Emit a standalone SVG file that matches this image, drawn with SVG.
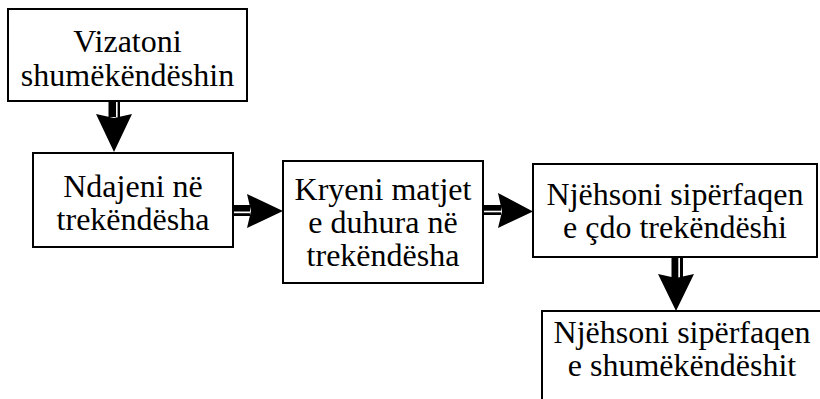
<svg xmlns="http://www.w3.org/2000/svg" width="820" height="399" viewBox="0 0 820 399">
<style>
text{font-family:Liberation Serif, Tinos, Times, DejaVu Serif, serif;font-size:32px;fill:#000;text-anchor:middle}
.box{fill:#fff;stroke:#000;stroke-width:2}
.blk{fill:#000}
.wht{fill:#fff}
</style>
<rect width="820" height="399" fill="#fff"/>
<g id="connectors">
  <g id="a1">
    <rect class="blk" x="108.5" y="101" width="11.5" height="16"/>
    <rect class="wht" x="116" y="101" width="1.6" height="16"/>
    <polygon class="blk" points="96,114 114,118 132,114 114,152"/>
  </g>
  <g id="a2">
    <rect class="blk" x="233" y="205" width="17" height="11"/>
    <rect class="wht" x="233" y="211.5" width="17" height="1.7"/>
    <polygon class="blk" points="247,194 251,211 247,228 283,211"/>
  </g>
  <g id="a3">
    <rect class="blk" x="483" y="205" width="18" height="10"/>
    <rect class="wht" x="483" y="210.7" width="18" height="1.6"/>
    <polygon class="blk" points="498,193 502,211.5 498,228 533,211.5"/>
  </g>
  <g id="a4">
    <rect class="blk" x="671.5" y="257" width="11.5" height="21"/>
    <rect class="wht" x="678.3" y="257" width="1.7" height="21"/>
    <polygon class="blk" points="658,274 676,278 694,274 676,311"/>
  </g>
</g>
<g id="n1">
  <rect class="box" x="8" y="9" width="239" height="92"/>
  <text x="127.5" y="52">Vizatoni</text>
  <text x="127.5" y="86">shumëkëndëshin</text>
</g>
<g id="n2">
  <rect class="box" x="33" y="153" width="200" height="94"/>
  <text x="133" y="197">Ndajeni në</text>
  <text x="133" y="230">trekëndësha</text>
</g>
<g id="n3">
  <rect class="box" x="283" y="161" width="200" height="122"/>
  <text x="383" y="200">Kryeni matjet</text>
  <text x="383" y="233">e duhura në</text>
  <text x="383" y="266">trekëndësha</text>
</g>
<g id="n4">
  <rect class="box" x="533" y="164" width="284" height="93"/>
  <text x="675" y="205">Njëhsoni sipërfaqen</text>
  <text x="675" y="238">e çdo trekëndëshi</text>
</g>
<g id="n5">
  <rect class="box" x="542" y="311" width="290" height="100"/>
  <text x="682" y="343">Njëhsoni sipërfaqen</text>
  <text x="682" y="376">e shumëkëndëshit</text>
</g>
</svg>
